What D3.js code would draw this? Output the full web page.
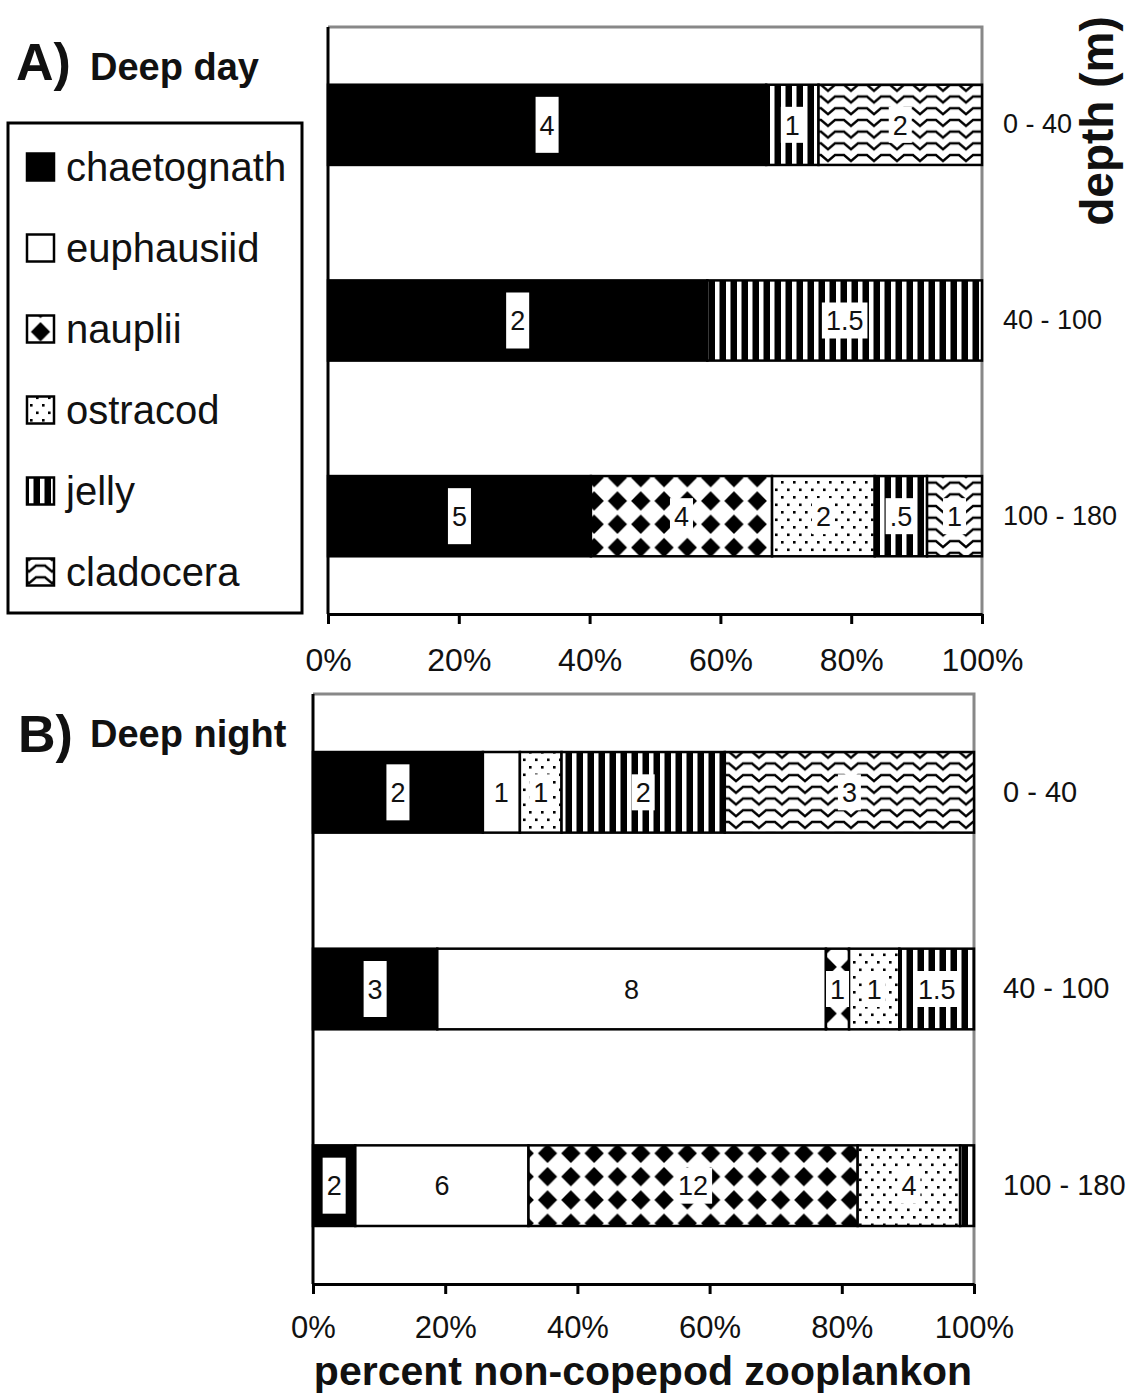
<!DOCTYPE html>
<html>
<head>
<meta charset="utf-8">
<script src="https://cdn.jsdelivr.net/npm/d3@7"></script>
<style>
body { margin: 0; background: #fff; }
text { font-family: "Liberation Sans", Arial, sans-serif; fill: #111; }
</style>
</head>
<body>
<svg id="chart" width="1138" height="1395"></svg>
<script>
var species = ["chaetognath", "euphausiid", "nauplii", "ostracod", "jelly", "cladocera"];
var depths = ["0 - 40", "40 - 100", "100 - 180"];
var ticks = [0, 20, 40, 60, 80, 100];

// deep day: percent of each bar, per depth
var dayChaetognath = [67, 58, 40.2];
var dayEuphausiid  = [0, 0, 0];
var dayNauplii     = [0, 0, 27.7];
var dayOstracod    = [0, 0, 15.7];
var dayJelly       = [8, 42, 8];
var dayCladocera   = [25, 0, 8.4];
// numbers written on the segments [species][depth]
var dayLabels = [["4", "2", "5"], ["", "", ""], ["", "", "4"], ["", "", "2"], ["1", "1.5", ".5"], ["2", "", "1"]];

// deep night
var nightChaetognath = [25.7, 18.8, 6.4];
var nightEuphausiid  = [5.6, 58.8, 26.2];
var nightNauplii     = [0, 3.5, 49.8];
var nightOstracod    = [6.3, 7.6, 15.5];
var nightJelly       = [24.7, 11.3, 2.1];
var nightCladocera   = [37.7, 0, 0];
var nightLabels = [["2", "3", "2"], ["1", "8", "6"], ["", "1", "12"], ["1", "1", "4"], ["2", "1.5", ""], ["3", "", ""]];

var svg = d3.select("#chart");
var defs = svg.append("defs");

// legend rows
var ly = d3.scaleLinear().domain([0, species.length - 1]).range([167, 572]);

function addPattern(id, w, h, ox, oy) {
  var p = defs.append("pattern").attr("id", id)
    .attr("patternUnits", "userSpaceOnUse")
    .attr("x", ox || 0).attr("y", oy || 0)
    .attr("width", w).attr("height", h);
  p.append("rect").attr("width", w).attr("height", h).attr("fill", "#fff");
  return p;
}
function naup(id, ox, oy) {
  addPattern(id, 23.3, 23.3, ox, oy).append("path")
    .attr("d", "M11.65,2 L21.3,11.65 L11.65,21.3 L2,11.65Z").attr("fill", "#000");
}
function ostr(id, ox, oy) {
  var p = addPattern(id, 12, 15, ox, oy);
  p.append("rect").attr("x", 1).attr("y", 1).attr("width", 2.6).attr("height", 2.6).attr("fill", "#000");
  p.append("rect").attr("x", 7).attr("y", 8.5).attr("width", 2.6).attr("height", 2.6).attr("fill", "#000");
}
function jelly(id, ox, oy) {
  addPattern(id, 11, 10, ox, oy).append("rect")
    .attr("x", 4.5).attr("width", 6.5).attr("height", 10).attr("fill", "#000");
}
function clad(id, ox, oy) {
  addPattern(id, 23, 11.7, ox, oy).append("path").attr("d", "M-1,9.8 L7,3 L16,3 L24,9.8")
    .attr("fill", "none").attr("stroke", "#000").attr("stroke-width", 2.4);
}
naup("p-naup"); ostr("p-ostr"); jelly("p-jelly"); clad("p-clad");
// legend copies, tiles lined up on each swatch
naup("l-naup", 40.5 - 11.65, ly(2) - 11.65);
ostr("l-ostr", 29, ly(3) - 12);
jelly("l-jelly", 29, ly(4));
clad("l-clad", 29, ly(5) - 8);

var fills = {
  chaetognath: "#000", euphausiid: "#fff", nauplii: "url(#p-naup)",
  ostracod: "url(#p-ostr)", jelly: "url(#p-jelly)", cladocera: "url(#p-clad)"
};
var legendFills = {
  chaetognath: "#000", euphausiid: "#fff", nauplii: "url(#l-naup)",
  ostracod: "url(#l-ostr)", jelly: "url(#l-jelly)", cladocera: "url(#l-clad)"
};

function panel(o) {
  var x = d3.scaleLinear().domain([0, 100]).range([o.x0, o.x1]);
  var y = d3.scaleBand().domain(depths).range([o.y0, o.y1])
    .paddingInner(0.59).paddingOuter(0.295);

  var rows = depths.map(function (d, i) {
    var r = { depth: d };
    species.forEach(function (s, j) { r[s] = o.values[j][i]; });
    return r;
  });
  var series = d3.stack().keys(species)(rows);
  var g = svg.append("g");

  // grey top and right frame
  g.append("path")
    .attr("d", "M" + o.x0 + "," + o.y0 + "H" + o.x1 + "V" + o.y1)
    .attr("fill", "none").attr("stroke", "#888").attr("stroke-width", 3);

  var segs = [];
  series.forEach(function (s, si) {
    s.forEach(function (e, i) {
      if (e[1] - e[0] > 0) segs.push({ key: s.key, si: si, a: e[0], b: e[1], depth: e.data.depth, lab: o.labels[si][i] });
    });
  });

  g.selectAll("rect.seg").data(segs).join("rect")
    .attr("class", "seg")
    .attr("x", function (d) { return x(d.a); })
    .attr("y", function (d) { return y(d.depth); })
    .attr("width", function (d) { return x(d.b) - x(d.a); })
    .attr("height", y.bandwidth())
    .attr("fill", function (d) { return fills[d.key]; })
    .attr("stroke", "#000").attr("stroke-width", 2.5);

  // segment labels on white boxes
  var lab = g.selectAll("g.lab").data(segs.filter(function (d) { return d.lab !== ""; })).join("g")
    .attr("class", "lab")
    .attr("transform", function (d) {
      return "translate(" + x((d.a + d.b) / 2) + "," + (y(d.depth) + y.bandwidth() / 2) + ")";
    });
  lab.append("text")
    .attr("text-anchor", "middle").attr("dy", "0.36em")
    .style("font-size", "27px")
    .text(function (d) { return d.lab; });
  lab.each(function (d) {
    var t = d3.select(this).select("text");
    var w = t.node().getComputedTextLength() + 8;
    var h = d.si === 0 ? 56 : 36;
    d3.select(this).insert("rect", "text")
      .attr("x", -w / 2).attr("y", -h / 2).attr("width", w).attr("height", h)
      .attr("fill", "#fff");
  });

  // left axis line
  g.append("line").attr("x1", o.x0).attr("x2", o.x0).attr("y1", o.y0).attr("y2", o.y1)
    .attr("stroke", "#000").attr("stroke-width", 3);

  var xa = g.append("g").attr("transform", "translate(0," + o.y1 + ")")
    .call(d3.axisBottom(x).tickValues(ticks).tickFormat(function (d) { return d + "%"; })
      .tickSize(10).tickSizeOuter(0).tickPadding(o.tickPad));
  xa.select(".domain").attr("stroke", "#000").attr("stroke-width", 3);
  xa.selectAll(".tick line").attr("stroke", "#000").attr("stroke-width", 3);
  xa.selectAll("text").style("font-size", o.tickFont + "px").attr("fill", "#111");

  var ya = g.append("g").attr("transform", "translate(" + o.x1 + ",0)")
    .call(d3.axisRight(y).tickSize(0).tickPadding(o.catPad));
  ya.select(".domain").remove();
  ya.selectAll("text").style("font-size", o.catFont + "px").attr("fill", "#111");
}

panel({
  x0: 328, x1: 982, y0: 27, y1: 614,
  values: [dayChaetognath, dayEuphausiid, dayNauplii, dayOstracod, dayJelly, dayCladocera],
  labels: dayLabels, tickPad: 24, tickFont: 32, catPad: 21, catFont: 27
});
panel({
  x0: 313, x1: 974, y0: 694, y1: 1284,
  values: [nightChaetognath, nightEuphausiid, nightNauplii, nightOstracod, nightJelly, nightCladocera],
  labels: nightLabels, tickPad: 22, tickFont: 31, catPad: 29, catFont: 29
});

// panel titles
svg.append("text").attr("x", 16).attr("y", 80).style("font-size", "52px").style("font-weight", "bold").text("A)");
svg.append("text").attr("x", 90).attr("y", 80).style("font-size", "38px").style("font-weight", "bold").text("Deep day");
svg.append("text").attr("x", 18).attr("y", 752).style("font-size", "52px").style("font-weight", "bold").text("B)");
svg.append("text").attr("x", 90).attr("y", 747).style("font-size", "38px").style("font-weight", "bold").text("Deep night");

// axis titles
svg.append("text").attr("transform", "translate(1113,121) rotate(-90)")
  .attr("text-anchor", "middle").style("font-size", "46px").style("font-weight", "bold")
  .text("depth (m)");
svg.append("text").attr("x", 643).attr("y", 1385)
  .attr("text-anchor", "middle").style("font-size", "41px").style("font-weight", "bold")
  .text("percent non-copepod zooplankon");

// legend
var legend = svg.append("g");
legend.append("rect").attr("x", 8).attr("y", 123).attr("width", 294).attr("height", 490)
  .attr("fill", "#fff").attr("stroke", "#000").attr("stroke-width", 3);
var li = legend.selectAll("g.item").data(species).join("g")
  .attr("class", "item")
  .attr("transform", function (d, i) { return "translate(0," + ly(i) + ")"; });
li.append("rect").attr("x", 27).attr("y", -13.5).attr("width", 27).attr("height", 27)
  .attr("fill", function (d) { return legendFills[d]; })
  .attr("stroke", "#000").attr("stroke-width", 2.5);
li.append("text").attr("x", 66).attr("dy", "0.35em")
  .style("font-size", "40px").text(function (d) { return d; });
</script>
</body>
</html>
